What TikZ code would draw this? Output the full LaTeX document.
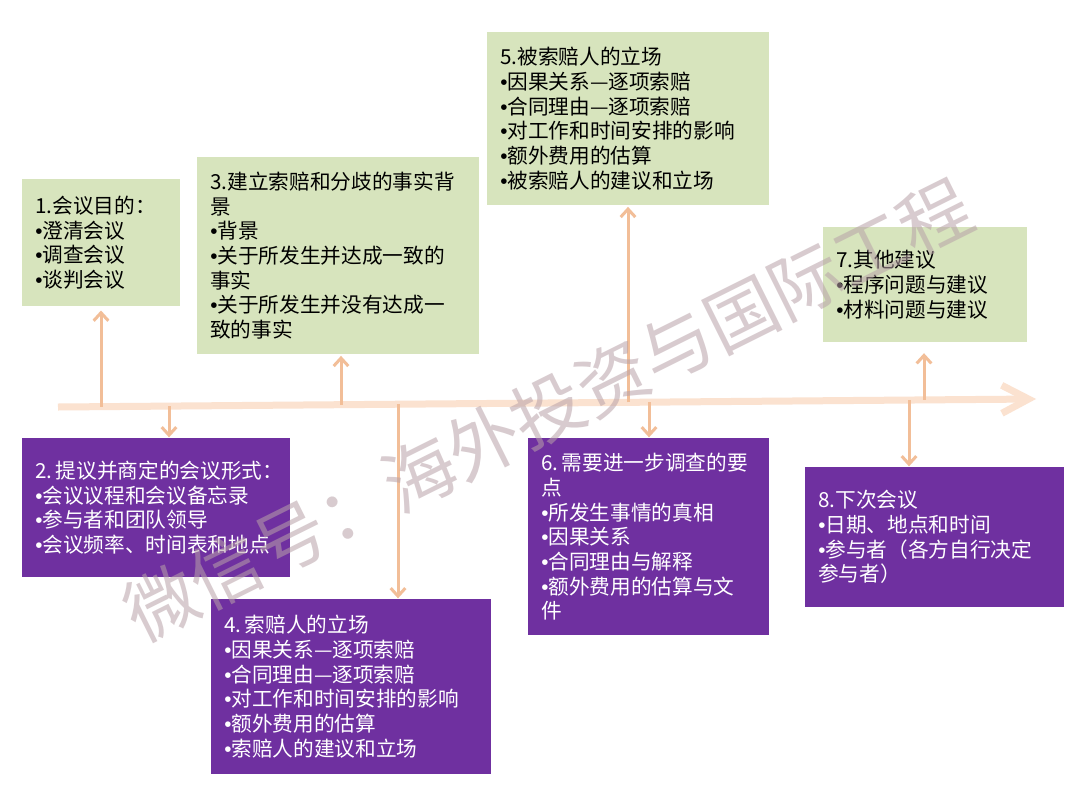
\documentclass[tikz,border=0pt]{standalone}
\usepackage{fontspec}
\newfontfamily\cjk{Noto Sans CJK SC}
\newfontfamily\latf{Liberation Sans}
\newcommand\bul{{\latf •}}
\usetikzlibrary{arrows.meta}
\definecolor{boxgreen}{HTML}{D7E4BD}
\definecolor{boxpurple}{HTML}{6F30A0}
\definecolor{connc}{HTML}{F2BE98}
\definecolor{tlc}{HTML}{FBE2D0}
\definecolor{wmc}{HTML}{B8A2A8}
\tikzset{
  box/.style={anchor=north west, inner xsep=9.75pt, inner ysep=0pt, align=left,
    font=\cjk\fontsize{15.5}{18.5}\selectfont},
  gbox/.style={box, fill=boxgreen, text=black},
  pbox/.style={box, fill=boxpurple, text=white},
  conn/.style={draw=connc, line width=2.25pt, -{Straight Barb[length=6pt,width=11pt]}},
  timeline/.style={draw=tlc, line width=5.25pt, -{Straight Barb[length=20pt,width=21pt]}},
  wmark/.style={font=\cjk\fontsize{54}{54}\selectfont, text=wmc, opacity=0.55}
}
\begin{document}
\begin{tikzpicture}[x=0.75pt,y=-0.75pt]
\useasboundingbox (0,0) rectangle (1080,810);
\fill[white] (0,0) rectangle (1080,810);

% timeline
\coordinate (tA) at (58,407);
\coordinate (tB) at (1036,399);
\draw[timeline] (tA) -- (tB);

% boxes
\node[gbox, minimum width=118.5pt, minimum height=95.25pt, text width=99pt] (b1) at (22,179)
  {1.会议目的：\\\bul 澄清会议\\\bul 调查会议\\\bul 谈判会议};
\node[gbox, minimum width=211.5pt, minimum height=147.75pt, text width=192pt] (b3) at (197,157)
  {3.建立索赔和分歧的事实背\\景\\\bul 背景\\\bul 关于所发生并达成一致的\\事实\\\bul 关于所发生并没有达成一\\致的事实};
\node[gbox, minimum width=211.5pt, minimum height=129.75pt, text width=192pt] (b5) at (487,32)
  {5.被索赔人的立场\\\bul 因果关系—逐项索赔\\\bul 合同理由—逐项索赔\\\bul 对工作和时间安排的影响\\\bul 额外费用的估算\\\bul 被索赔人的建议和立场};
\node[gbox, minimum width=153pt, minimum height=86.25pt, text width=133.5pt] (b7) at (823,227)
  {7.其他建议\\\bul 程序问题与建议\\\bul 材料问题与建议};
\node[pbox, minimum width=201pt, minimum height=104.25pt, text width=181.5pt] (b2) at (22,438)
  {\mbox{2.\,提议并商定的会议形式：}\\\bul 会议议程和会议备忘录\\\bul 参与者和团队领导\\\bul 会议频率、时间表和地点};
\node[pbox, minimum width=210pt, minimum height=131.25pt, text width=190.5pt] (b4) at (211,599)
  {4.\,索赔人的立场\\\bul 因果关系—逐项索赔\\\bul 合同理由—逐项索赔\\\bul 对工作和时间安排的影响\\\bul 额外费用的估算\\\bul 索赔人的建议和立场};
\node[pbox, minimum width=180.75pt, minimum height=147.75pt, text width=161.25pt] (b6) at (528,438)
  {\mbox{6.\,需要进一步调查的要}\\点\\\bul 所发生事情的真相\\\bul 因果关系\\\bul 合同理由与解释\\\bul 额外费用的估算与文\\件};
\node[pbox, minimum width=194.25pt, minimum height=105pt, text width=174.75pt] (b8) at (805,467)
  {8.下次会议\\\bul 日期、地点和时间\\\bul 参与者（各方自行决定\\参与者）};

% connector start points on the timeline
\coordinate (c1) at (101,406.6);
\coordinate (c2) at (169,406.1);
\coordinate (c3) at (341,404.7);
\coordinate (c4) at (398,404.2);
\coordinate (c5) at (628,402.3);
\coordinate (c6) at (649,402.2);
\coordinate (c7) at (924,399.9);
\coordinate (c8) at (909,400.0);

\draw[conn, shorten >=3pt] (c1) -- (c1 |- b1.south);
\draw[conn, shorten >=1pt] (c3) -- (c3 |- b3.south);
\draw[conn, shorten >=1pt] (c5) -- (c5 |- b5.south);
\draw[conn, shorten >=8pt] (c7) -- (c7 |- b7.south);
\draw[conn, shorten >=0.5pt] (c2) -- (c2 |- b2.north);
\draw[conn, shorten >=0.5pt] (c4) -- (c4 |- b4.north);
\draw[conn, shorten >=0.5pt] (c6) -- (c6 |- b6.north);
\draw[conn, shorten >=0.5pt] (c8) -- (c8 |- b8.north);

% watermark
\node[wmark, rotate=26.5] (wm) at (548,410) {微信号：海外投资与国际工程};
\end{tikzpicture}
\end{document}
